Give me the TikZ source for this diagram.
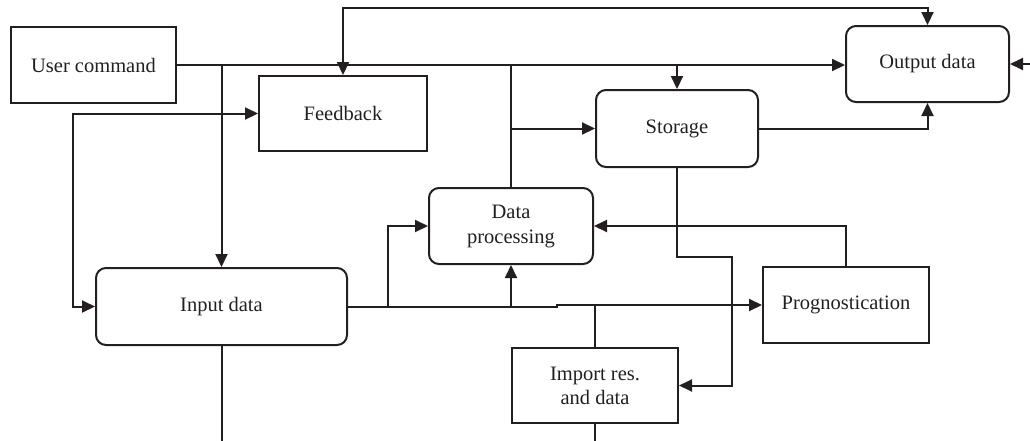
\documentclass[tikz,border=0pt]{standalone}
\usepackage{fontspec}
\setmainfont{Liberation Serif}
\usetikzlibrary{arrows.meta}
\definecolor{ink}{RGB}{35,31,32}
\begin{document}
\begin{tikzpicture}[x=1pt,y=-1pt,
  box/.style={draw=ink, line width=2pt, inner sep=0pt, text=ink, align=center,
    font=\fontsize{20.5}{24}\selectfont},
  rbox/.style={box, rounded corners=10pt},
  wire/.style={draw=ink, line width=2pt},
  conn/.style={wire, -{Triangle[length=13pt,width=12pt]}},
  both/.style={wire, {Triangle[length=13pt,width=12pt]}-{Triangle[length=13pt,width=12pt]}}]
\useasboundingbox (0,0) rectangle (1030,440);
\node[box, minimum width=165pt, minimum height=76pt] (user) at (93.5,65) {User command};
\node[box, minimum width=168pt, minimum height=75pt] (fb) at (343,113.5) {Feedback};
\node[rbox, minimum width=163pt, minimum height=76pt] (out) at (927.5,64) {Output data};
\node[rbox, minimum width=162pt, minimum height=77pt] (sto) at (677,128.5) {Storage};
\node[rbox, minimum width=164pt, minimum height=76pt] (dp) at (511,226) {Data\\[1pt]processing};
\node[rbox, minimum width=251pt, minimum height=77pt] (in) at (221.5,306.5) {Input data};
\node[box, minimum width=166pt, minimum height=76pt] (prog) at (846,305) {Prognostication};
\node[box, minimum width=166pt, minimum height=75pt] (imp) at (595,385.5) {Import res.\\and data};
\coordinate (top) at (0,8);
\coordinate (lx) at (73,0);
\coordinate (rfree) at (1030,64);
\coordinate (k1) at (732,257);
\coordinate (jog) at (557,0);
\coordinate (bx) at (388,0);
\coordinate (bot) at (0,441);
% main line
\draw[conn] (user.east) -- (out.west |- user.east);
\draw[conn] (in.north |- user.east) -- (in.north);
% top loop
\draw[both] (fb.north) -- (fb.north |- top) -| (out.north);
% left loop
\draw[both] (fb.west) -- (lx |- fb.west) -- (lx |- in.west) -- (in.west);
% right free arrow
\draw[conn] (rfree) -- (out.east);
% data processing up
\draw[wire] (dp.north) -- (dp.north |- user.east);
\draw[conn] (dp.north |- sto.west) -- (sto.west);
\draw[conn] (sto.north |- user.east) -- (sto.north);
\draw[conn] (sto.east) -| (out.south);
\draw[conn] (sto.south) -- (sto.south |- k1) -- (k1) -- (k1 |- imp.east) -- (imp.east);
% input data out
\draw[conn] (in.east) -- (jog |- in.east) -- (jog |- prog.west) -- (prog.west);
\draw[conn] (bx |- in.east) |- (dp.west);
\draw[conn] (dp.south |- in.east) -- (dp.south);
\draw[wire] (imp.north) -- (imp.north |- prog.west);
\draw[conn] (prog.north) |- (dp.east);
% bottoms
\draw[wire] (in.south) -- (in.south |- bot);
\draw[wire] (imp.south) -- (imp.south |- bot);
\end{tikzpicture}
\end{document}
